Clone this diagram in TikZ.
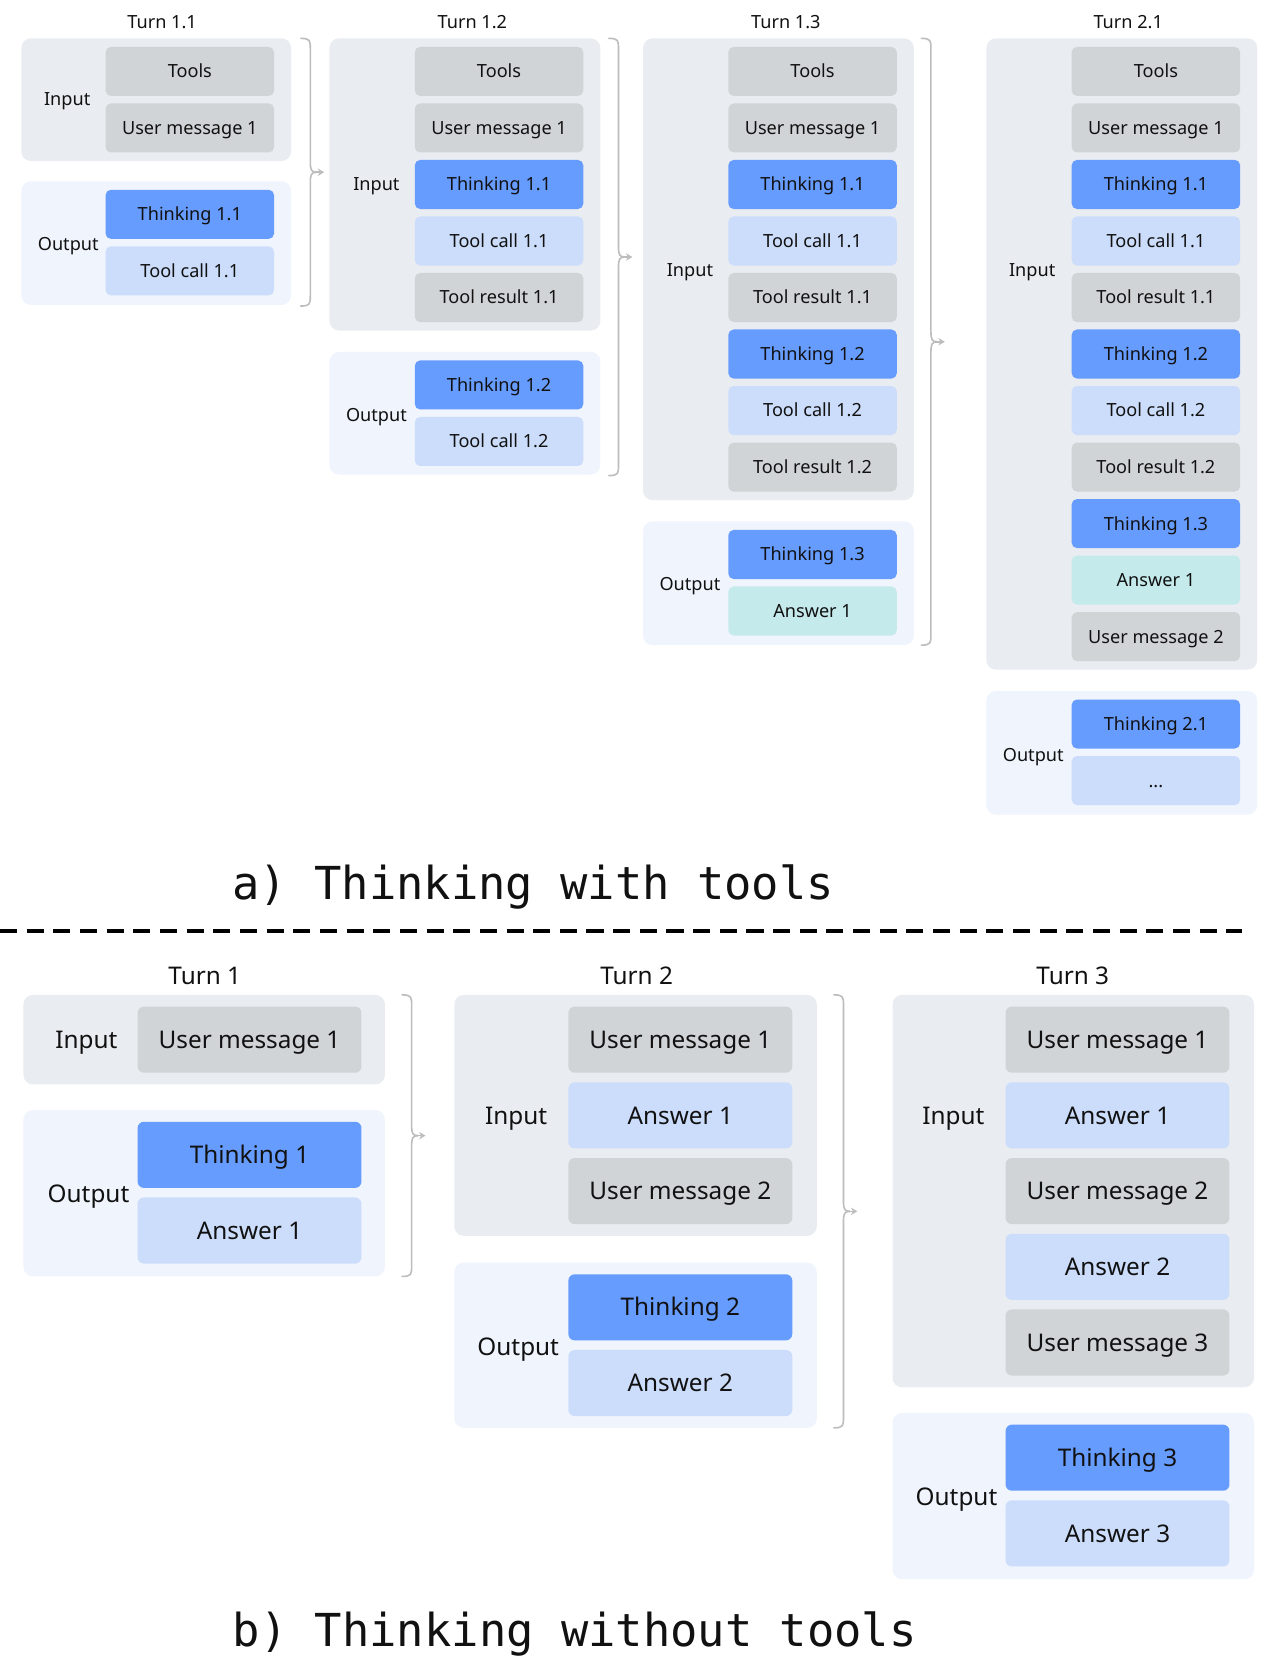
\documentclass[tikz,border=0pt]{standalone}
\usepackage{fontspec}
\setmainfont{Noto Sans}
\newfontfamily\titlemono{DejaVu Sans Mono}
\usetikzlibrary{arrows.meta}
\definecolor{inbg}{HTML}{E9ECF0}
\definecolor{outbg}{HTML}{EFF4FD}
\definecolor{cgray}{HTML}{D1D4D7}
\definecolor{cthink}{HTML}{679CFF}
\definecolor{clight}{HTML}{CCDDFB}
\definecolor{cteal}{HTML}{C5EAEC}
\definecolor{bracec}{HTML}{BDBDBD}
\definecolor{txt}{HTML}{111111}
\newcommand\fsa{\fontsize{17}{20}\selectfont}
\newcommand\fsb{\fontsize{22.8}{27}\selectfont}
\newcommand\fst{\fontsize{42.6}{50}\selectfont}
\tikzset{
 every node/.style={text=txt, inner sep=0pt, outer sep=0pt},
 boxin/.style={fill=inbg, rounded corners=9pt},
 boxout/.style={fill=outbg, rounded corners=9pt},
 ca/.style={rounded corners=5pt, minimum width=158pt, minimum height=46pt, font=\fsa, text height=15.3pt, text depth=3.2pt},
 cb/.style={rounded corners=6pt, minimum width=210pt, minimum height=62pt, font=\fsb, text height=20.5pt, text depth=4.3pt},
 gcell/.style={fill=cgray}, tcell/.style={fill=cthink}, lcell/.style={fill=clight}, acell/.style={fill=cteal},
 laba/.style={font=\fsa, text height=15.3pt, text depth=3.2pt},
 labb/.style={font=\fsb, text height=20.5pt, text depth=4.3pt},
 bracestyle/.style={draw=bracec, line width=1.5pt, line cap=round},
 bracetip/.style={-{Stealth[length=6pt,width=7pt]}, draw=bracec, line width=1.5pt},
 titlestyle/.style={font=\titlemono\fst, anchor=base},
}
\newcommand\bracearrow[4]{%
 \pgfmathsetmacro\brmid{(#2+#3)/2}%
 \draw[bracestyle] ({#1-9},#2) .. controls (#1,#2) and (#1,{#2+2}) .. (#1,{#2+10}) -- (#1,{\brmid-10}) .. controls (#1,{\brmid-2}) and ({#1+1},\brmid) .. ({#1+6},\brmid);
 \draw[bracestyle] ({#1-9},#3) .. controls (#1,#3) and (#1,{#3-2}) .. (#1,{#3-10}) -- (#1,{\brmid+10}) .. controls (#1,{\brmid+2}) and ({#1+1},\brmid) .. ({#1+6},\brmid);
 \coordinate (#4) at ({#1+13},\brmid);
 \draw[bracetip] ({#1+5},\brmid) -- (#4);
}
\begin{document}
\begin{tikzpicture}[x=1pt,y=-1pt]
\useasboundingbox[fill=white] (0,0) rectangle (1195,1568);
% ---------------- Part a ----------------
% Turn 1.1
\node[laba] (tA) at (152,21) {Turn 1.1};
\node[boxin, minimum width=253pt, minimum height=115pt] (Ain) at (146.5,93.5) {};
\node[boxout, minimum width=253pt, minimum height=116pt] (Aout) at (146.5,228) {};
\node[laba] (Ainl) at (63,93) {Input};
\node[laba] (Aoutl) at (64,229) {Output};
\node[ca,gcell] (A1) at (178,67) {Tools};
\node[ca,gcell] (A2) at (178,120) {User message 1};
\node[ca,tcell] (A3) at (178,201) {Thinking 1.1};
\node[ca,lcell] (A4) at (178,254) {Tool call 1.1};
\bracearrow{291}{36}{287}{brA}
% Turn 1.2
\node[laba] (tB) at (443,21) {Turn 1.2};
\node[boxin, minimum width=254pt, minimum height=274pt] (Bin) at (436,173) {};
\node[boxout, minimum width=254pt, minimum height=115pt] (Bout) at (436,387.5) {};
\node[laba] (Binl) at (353,173) {Input};
\node[laba] (Boutl) at (353,389) {Output};
\node[ca,gcell] (B1) at (468,67) {Tools};
\node[ca,gcell] (B2) at (468,120) {User message 1};
\node[ca,tcell] (B3) at (468,173) {Thinking 1.1};
\node[ca,lcell] (B4) at (468,226) {Tool call 1.1};
\node[ca,gcell] (B5) at (468,279) {Tool result 1.1};
\node[ca,tcell] (B6) at (468,361) {Thinking 1.2};
\node[ca,lcell] (B7) at (468,414) {Tool call 1.2};
\bracearrow{580}{36}{446}{brB}
% Turn 1.3
\node[laba] (tC) at (737,21) {Turn 1.3};
\node[boxin, minimum width=254pt, minimum height=433pt] (Cin) at (730,252.5) {};
\node[boxout, minimum width=254pt, minimum height=116pt] (Cout) at (730,547) {};
\node[laba] (Cinl) at (647,253) {Input};
\node[laba] (Coutl) at (647,548) {Output};
\node[ca,gcell] (C1) at (762,67) {Tools};
\node[ca,gcell] (C2) at (762,120) {User message 1};
\node[ca,tcell] (C3) at (762,173) {Thinking 1.1};
\node[ca,lcell] (C4) at (762,226) {Tool call 1.1};
\node[ca,gcell] (C5) at (762,279) {Tool result 1.1};
\node[ca,tcell] (C6) at (762,332) {Thinking 1.2};
\node[ca,lcell] (C7) at (762,385) {Tool call 1.2};
\node[ca,gcell] (C8) at (762,438) {Tool result 1.2};
\node[ca,tcell] (C9) at (762,520) {Thinking 1.3};
\node[ca,acell] (C10) at (762,573) {Answer 1};
\bracearrow{873}{36}{605}{brC}
% Turn 2.1
\node[laba] (tD) at (1058,21) {Turn 2.1};
\node[boxin, minimum width=254pt, minimum height=592pt] (Din) at (1052,332) {};
\node[boxout, minimum width=254pt, minimum height=116pt] (Dout) at (1052,706) {};
\node[laba] (Dinl) at (968,253) {Input};
\node[laba] (Doutl) at (969,708) {Output};
\node[ca,gcell] (D1) at (1084,67) {Tools};
\node[ca,gcell] (D2) at (1084,120) {User message 1};
\node[ca,tcell] (D3) at (1084,173) {Thinking 1.1};
\node[ca,lcell] (D4) at (1084,226) {Tool call 1.1};
\node[ca,gcell] (D5) at (1084,279) {Tool result 1.1};
\node[ca,tcell] (D6) at (1084,332) {Thinking 1.2};
\node[ca,lcell] (D7) at (1084,385) {Tool call 1.2};
\node[ca,gcell] (D8) at (1084,438) {Tool result 1.2};
\node[ca,tcell] (D9) at (1084,491) {Thinking 1.3};
\node[ca,acell] (D10) at (1084,544) {Answer 1};
\node[ca,gcell] (D11) at (1084,597) {User message 2};
\node[ca,tcell] (D12) at (1084,679) {Thinking 2.1};
\node[ca,lcell] (D13) at (1084,732) {...};
% title a
\node[titlestyle] (titA) at (500,844) {a) Thinking with tools};
% dashed separator
\coordinate (dl) at (0,873);
\coordinate (dr) at (1165,873);
\draw[line width=3.5pt, dash pattern=on 16pt off 9pt] (dl) -- (dr);
% ---------------- Part b ----------------
% Turn 1
\node[labb] (tE) at (192,915) {Turn 1};
\node[boxin, minimum width=339pt, minimum height=84pt] (Ein) at (191.5,975) {};
\node[boxout, minimum width=339pt, minimum height=156pt] (Eout) at (191.5,1119) {};
\node[labb] (Einl) at (81,975) {Input};
\node[labb] (Eoutl) at (83,1120) {Output};
\node[cb,gcell] (E1) at (234,975) {User message 1};
\node[cb,tcell] (E2) at (234,1083) {Thinking 1};
\node[cb,lcell] (E3) at (234,1154) {Answer 1};
\bracearrow{386}{933}{1197}{brE}
% Turn 2
\node[labb] (tF) at (597,915) {Turn 2};
\node[boxin, minimum width=340pt, minimum height=226pt] (Fin) at (596,1046) {};
\node[boxout, minimum width=340pt, minimum height=155pt] (Fout) at (596,1261.5) {};
\node[labb] (Finl) at (484,1046) {Input};
\node[labb] (Foutl) at (486,1263) {Output};
\node[cb,gcell] (F1) at (638,975) {User message 1};
\node[cb,lcell] (F2) at (638,1046) {Answer 1};
\node[cb,gcell] (F3) at (638,1117) {User message 2};
\node[cb,tcell] (F4) at (638,1226) {Thinking 2};
\node[cb,lcell] (F5) at (638,1297) {Answer 2};
\bracearrow{791}{933}{1339}{brF}
% Turn 3
\node[labb] (tG) at (1006,915) {Turn 3};
\node[boxin, minimum width=339pt, minimum height=368pt] (Gin) at (1006.5,1117) {};
\node[boxout, minimum width=339pt, minimum height=156pt] (Gout) at (1006.5,1403) {};
\node[labb] (Ginl) at (894,1046) {Input};
\node[labb] (Goutl) at (897,1404) {Output};
\node[cb,gcell] (G1) at (1048,975) {User message 1};
\node[cb,lcell] (G2) at (1048,1046) {Answer 1};
\node[cb,gcell] (G3) at (1048,1117) {User message 2};
\node[cb,lcell] (G4) at (1048,1188) {Answer 2};
\node[cb,gcell] (G5) at (1048,1259) {User message 3};
\node[cb,tcell] (G6) at (1048,1367) {Thinking 3};
\node[cb,lcell] (G7) at (1048,1438) {Answer 3};
% title b
\node[titlestyle] (titB) at (539,1544) {b) Thinking without tools};
\end{tikzpicture}
\end{document}
